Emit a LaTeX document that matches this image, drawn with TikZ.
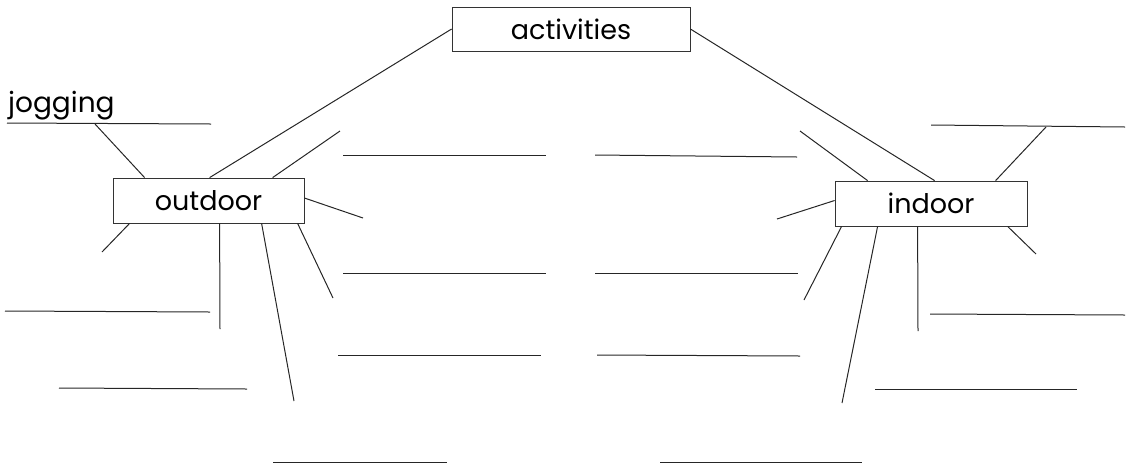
\documentclass[tikz,border=0pt]{standalone}
\usepackage{fontspec}
\setmainfont{Poppins}
\usetikzlibrary{calc}
\begin{document}
\begin{tikzpicture}[x=1pt,y=-1pt,
  ln/.style={draw=black!85,line width=1pt},
  box/.style={draw=black!80,line width=0.8pt,inner sep=0pt,fill=white,
    font=\fontsize{27}{27}\selectfont}]
\useasboundingbox (0,0) rectangle (1127,467);
% boxes
\node[box,minimum width=238pt,minimum height=44pt] (act) at (571,29) {activities};
\node[box,minimum width=191pt,minimum height=45pt] (od) at (208.5,200.5) {outdoor};
\node[box,minimum width=192pt,minimum height=45pt] (id) at (931,203.5) {indoor};
\node[anchor=base west,inner sep=0pt,font=\fontsize{28}{28}\selectfont] (jog) at (8,112) {jogging};
% free ends
\coordinate (o1) at (95,124);
\coordinate (o2) at (340,131);
\coordinate (o3) at (363,218);
\coordinate (o4) at (102,252);
\coordinate (o5) at (220,329);
\coordinate (o6) at (294,401);
\coordinate (o7) at (333,298);
\coordinate (i1) at (800,131);
\coordinate (i2) at (777,219);
\coordinate (i3) at (1046,127);
\coordinate (i4) at (1036,254);
\coordinate (i5) at (804,300);
\coordinate (i6) at (842,403);
\coordinate (i7) at (918,331);
% main connectors
\draw[ln] (act.west) -- ($(od.north west)+(97,0)$);
\draw[ln] (act.east) -- ($(id.north west)+(100,0)$);
% outdoor spokes
\draw[ln] ($(od.north west)+(32,0)$) -- (o1);
\draw[ln] ($(od.north west)+(160,0)$) -- (o2);
\draw[ln] ($(od.east)+(0,-2.5)$) -- (o3);
\draw[ln] ($(od.south west)+(17,0)$) -- (o4);
\draw[ln] ($(od.south west)+(107,0)$) -- (o5);
\draw[ln] ($(od.south west)+(149,0)$) -- (o6);
\draw[ln] ($(od.south west)+(185,0)$) -- (o7);
% indoor spokes
\draw[ln] ($(id.north west)+(33,0)$) -- (i1);
\draw[ln] ($(id.west)+(0,-3)$) -- (i2);
\draw[ln] ($(id.north west)+(161,0)$) -- (i3);
\draw[ln] ($(id.south west)+(173,0)$) -- (i4);
\draw[ln] ($(id.south west)+(7,0)$) -- (i5);
\draw[ln] ($(id.south west)+(43,0)$) -- (i6);
\draw[ln] ($(id.south west)+(83,0)$) -- (i7);
% writing lines
\draw[ln] (7,123) -- (211,124);
\draw[ln] (343,155) -- (546,155);
\draw[ln] (595,155) -- (797,157);
\draw[ln] (343,273) -- (546,273);
\draw[ln] (595,273) -- (798,273);
\draw[ln] (338,355) -- (541,355);
\draw[ln] (597,355) -- (800,356);
\draw[ln] (5,311) -- (210,312);
\draw[ln] (59,388) -- (247,389);
\draw[ln] (273,462) -- (447,462);
\draw[ln] (660,462) -- (862,462);
\draw[ln] (875,389) -- (1077,389);
\draw[ln] (930,314) -- (1125,315);
\draw[ln] (931,125) -- (1125,127);
\end{tikzpicture}
\end{document}
